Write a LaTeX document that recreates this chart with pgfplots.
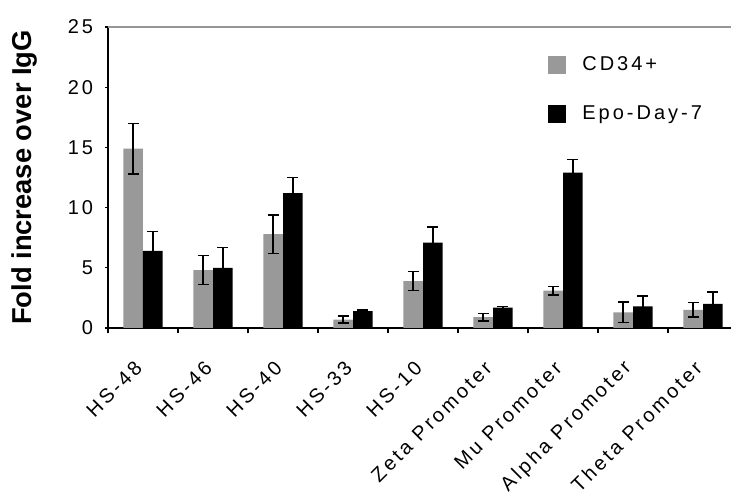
\documentclass[border=0pt]{standalone}
\usepackage{pgfplots}
\pgfplotsset{compat=1.18}
\usepackage{fontspec}
\setmainfont{Liberation Sans}
\newfontfamily\widefont[LetterSpace=15]{Liberation Sans}
\definecolor{barGray}{RGB}{153,153,153}
\definecolor{topGray}{RGB}{150,150,150}

\pgfplotstableread{
x  g    ge    b    be
0  14.9 2.1   6.4  1.6
1  4.8  1.2   5.0  1.7
2  7.8  1.6   11.2 1.3
3  0.7  0.3   1.4  0.1
4  3.9  0.8   7.1  1.3
5  0.9  0.3   1.7  0.1
6  3.1  0.35  12.9 1.1
7  1.3  0.85  1.8  0.85
8  1.5  0.6   2.0  1.0
}\datatable

\begin{document}
\begin{tikzpicture}
\useasboundingbox (-81pt,-125.25pt) rectangle (467.25pt,246pt);
\begin{axis}[
  at={(0,0)}, anchor=south west,
  scale only axis, width=467.25pt, height=225.75pt,
  xmin=-0.5, xmax=8.4, ymin=0, ymax=25,
  axis x line*=bottom, axis y line*=left,
  axis line style={line width=1pt, black},
  ytick={0,5,...,25},
  xtick={0,...,8},
  xticklabels={HS-48,HS-46,HS-40,HS-33,HS-10,Zeta Promoter,Mu Promoter,Alpha Promoter,Theta Promoter},
  minor xtick={-0.5,0.5,...,7.5},
  major x tick style={draw=none},
  minor x tick style={black, line width=0.8pt},
  minor tick length=4pt,
  major tick length=2pt,
  y tick style={black, line width=0.8pt},
  tick align=outside,
  /pgf/number format/assume math mode=true,
  y tick label style={font=\widefont\fontsize{15}{17}\selectfont, inner xsep=0pt, xshift=-9pt},
  x tick label style={font=\widefont\fontsize{15}{17}\selectfont, xshift=-1pt, yshift=-23pt, rotate=45, anchor=east},
  ylabel={\bfseries Fold increase over IgG},
  ylabel style={font=\fontsize{20.5}{22}\selectfont, at={(axis description cs:-0.1348,0.5)}, anchor=center},
  ybar, bar width=0.28,
  error bars/y dir=both, error bars/y explicit,
  error bars/error bar style={black, line width=1.1pt},
  error bars/error mark options={rotate=90, mark size=4pt, line width=1.1pt, black},
  legend style={draw=none, fill=none, at={(0.70,0.92)}, anchor=north west,
    font=\widefont\fontsize{15}{17}\selectfont, row sep=21pt, column sep=10pt},
  legend cell align=left,
]
\addplot[fill=barGray, draw=none, bar shift=-0.14,
  legend image code/.code={\fill[barGray] (0pt,-6.75pt) rectangle (13.5pt,6.75pt);}]
  table[x=x, y=g, y error=ge]{\datatable};
\addlegendentry{CD34+}
\addplot[fill=black, draw=none, bar shift=0.14,
  legend image code/.code={\fill[black] (0pt,-6.75pt) rectangle (13.5pt,6.75pt);}]
  table[x=x, y=b, y error=be]{\datatable};
\addlegendentry{Epo-Day-7}
\draw[topGray, line width=1pt] (rel axis cs:0,1) -- (rel axis cs:1,1);
\end{axis}
\end{tikzpicture}
\end{document}
